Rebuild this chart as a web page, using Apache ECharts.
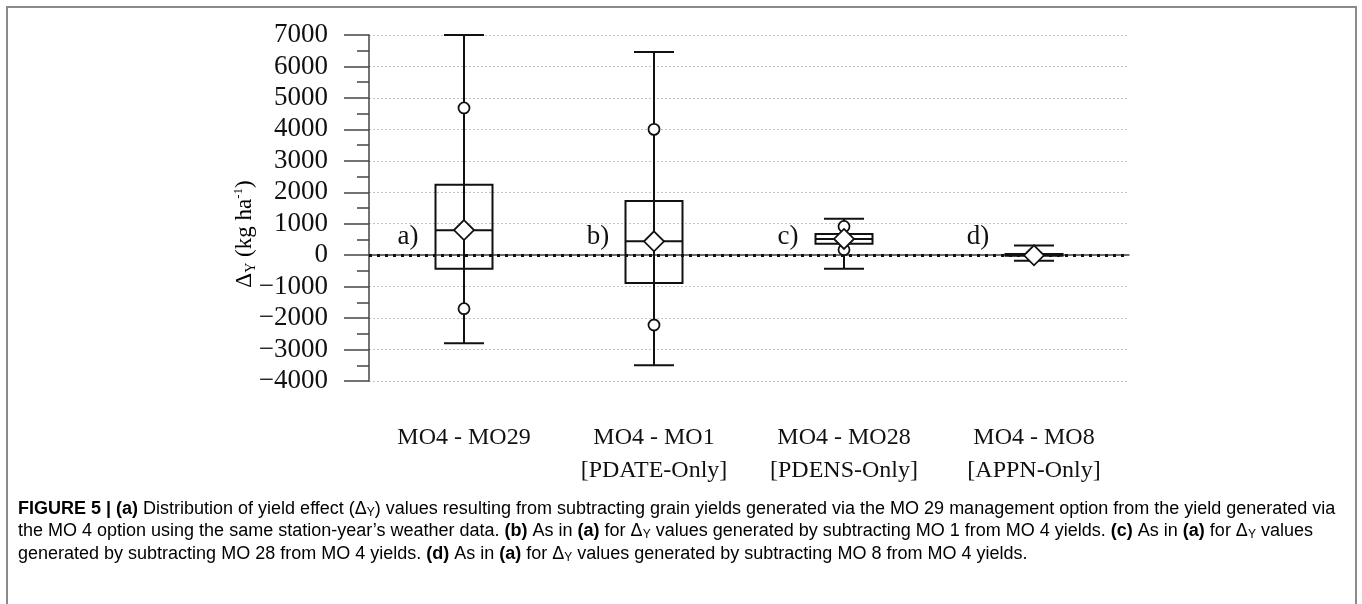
<!DOCTYPE html>
<html>
<head>
<meta charset="utf-8">
<script src="https://cdn.jsdelivr.net/npm/echarts@6/dist/echarts.min.js"></script>
<style>
  html, body { margin: 0; padding: 0; background: #fff; }
  #chart { width: 1362px; height: 604px; }
</style>
</head>
<body>
<div id="chart"></div>
<script>
// values (kg ha-1)
const categories = [
  "MO4 - MO29",
  "MO4 - MO1\n[PDATE-Only]",
  "MO4 - MO28\n[PDENS-Only]",
  "MO4 - MO8\n[APPN-Only]",
];
const panelLabels = ["a)", "b)", "c)", "d)"];
const whiskerLow = [-2800, -3500, -430, -175];
const q1 = [-430, -885, 365, -20];
const median = [790, 440, 515, 10];
const q3 = [2240, 1720, 675, 40];
const whiskerHigh = [7000, 6460, 1160, 310];
const means = [800, 440, 515, -5];
const lowMarker = [-1700, -2220, 175, null];
const highMarker = [4680, 4000, 915, null];
const yTicks = { min: -4000, max: 7000, step: 1000 };

const serif = "Liberation Serif";
const sans = "Liberation Sans";
const ink = "#111";

const chart = echarts.init(document.getElementById("chart"));

const boxData = categories.map((c, i) => [i, whiskerLow[i], q1[i], median[i], q3[i], whiskerHigh[i]]);

function renderBox(params, api) {
  const i = api.value(0);
  const at = (v) => api.coord([i, v]);
  const x = at(api.value(3))[0];
  const yLo = at(api.value(1))[1];
  const yQ1 = at(api.value(2))[1];
  const yMed = at(api.value(3))[1];
  const yQ3 = at(api.value(4))[1];
  const yHi = at(api.value(5))[1];
  const boxW = 57;
  const capW = 40;
  const line = (x1, y1, x2, y2) => ({
    type: "line",
    shape: { x1, y1, x2, y2 },
    style: { stroke: ink, lineWidth: 2 },
  });
  return {
    type: "group",
    children: [
      line(x, yHi, x, yLo),
      line(x - capW / 2, yHi, x + capW / 2, yHi),
      line(x - capW / 2, yLo, x + capW / 2, yLo),
      {
        type: "rect",
        shape: { x: x - boxW / 2, y: yQ3, width: boxW, height: yQ1 - yQ3 },
        style: { fill: "none", stroke: ink, lineWidth: 2 },
      },
      line(x - boxW / 2, yMed, x + boxW / 2, yMed),
    ],
  };
}

const markerData = [];
categories.forEach((c, i) => {
  if (lowMarker[i] != null) markerData.push([i, lowMarker[i]]);
  if (highMarker[i] != null) markerData.push([i, highMarker[i]]);
});

const capColor = "#222";
const captionRich = {
  n: { fontFamily: sans, fontSize: 18, color: capColor },
  b: { fontFamily: sans, fontSize: 18, fontWeight: "bold", color: capColor },
  s: { fontFamily: sans, fontSize: 12, color: capColor, padding: [7, 0, 0, 0] },
};
const captionLines = [
  "{b|FIGURE 5 | (a)}{n| Distribution of yield effect (Δ}{s|Y}{n|) values resulting from subtracting grain yields generated via the MO 29 management option from the yield generated via}",
  "{n|the MO 4 option using the same station-year’s weather data. }{b|(b)}{n| As in }{b|(a)}{n| for Δ}{s|Y}{n| values generated by subtracting MO 1 from MO 4 yields. }{b|(c)}{n| As in }{b|(a)}{n| for Δ}{s|Y}{n| values}",
  "{n|generated by subtracting MO 28 from MO 4 yields. }{b|(d)}{n| As in }{b|(a)}{n| for Δ}{s|Y}{n| values generated by subtracting MO 8 from MO 4 yields.}",
];

const nameRich = {
  t: { fontFamily: serif, fontSize: 23, color: "#333" },
  s: { fontFamily: serif, fontSize: 14, color: "#333", padding: [12, 0, 0, 0] },
  p: { fontFamily: serif, fontSize: 13, color: "#333", padding: [0, 0, 12, 0] },
};

const option = {
  animation: false,
  backgroundColor: "#fff",
  grid: { left: 369, right: 233, top: 35, bottom: 223 },
  graphic: [
    {
      type: "rect",
      z: -10,
      shape: { x: 7, y: 7, width: 1349, height: 700 },
      style: { fill: "none", stroke: "#8a8a8a", lineWidth: 2 },
    },
    {
      // y axis title, sits a little below the axis middle in the figure
      type: "text",
      x: 245,
      y: 234,
      rotation: Math.PI / 2,
      style: {
        text: "{t|Δ}{s|Y}{t| (kg ha}{p|-1}{t|)}",
        rich: nameRich,
        align: "center",
        verticalAlign: "middle",
      },
    },
  ].concat(
    captionLines.map((t, k) => ({
      type: "text",
      left: 18,
      top: 500 + k * 22.5,
      style: { text: t, rich: captionRich },
    }))
  ),
  xAxis: {
    type: "category",
    data: categories,
    boundaryGap: true,
    axisLine: { lineStyle: { color: "#444", width: 1.5 } },
    axisTick: { alignWithLabel: true, length: 25, lineStyle: { color: "#444", width: 1.5 } },
    axisLabel: {
      margin: 40,
      fontFamily: serif,
      fontSize: 24,
      lineHeight: 33,
      color: ink,
      interval: 0,
    },
    splitLine: { show: false },
  },
  yAxis: {
    type: "value",
    min: yTicks.min,
    max: yTicks.max,
    interval: yTicks.step,
    axisLine: { show: true, lineStyle: { color: "#444", width: 1.5 } },
    axisTick: { show: true, length: 25, lineStyle: { color: "#444", width: 1.5 } },
    minorTick: { show: true, splitNumber: 2, length: 12, lineStyle: { color: "#444", width: 1.5 } },
    axisLabel: {
      margin: 41,
      fontFamily: serif,
      fontSize: 27,
      color: ink,
      formatter: (v) => String(v).replace("-", "\u2212"),
    },
    splitLine: { show: true, lineStyle: { color: "#c4c4c4", width: 1, type: [2, 2] } },
  },
  series: [
    {
      type: "custom",
      renderItem: renderBox,
      data: boxData,
      encode: { x: 0, y: [1, 2, 3, 4, 5] },
      z: 3,
    },
    {
      type: "scatter",
      data: categories.map((c, i) => [i, 0]),
      symbolSize: 0,
      itemStyle: { opacity: 1 },
      z: 2,
      label: {
        show: true,
        position: "inside",
        formatter: (p) => panelLabels[p.dataIndex],
        offset: [-56, -18],
        fontFamily: serif,
        fontSize: 27,
        color: ink,
        opacity: 1,
      },
      markLine: {
        silent: true,
        symbol: "none",
        label: { show: false },
        lineStyle: { color: ink, type: [3, 5], width: 3, opacity: 1 },
        data: [{ yAxis: 0 }],
      },
    },
    {
      type: "scatter",
      data: markerData,
      symbol: "circle",
      symbolSize: 11,
      itemStyle: { color: "#fff", borderColor: ink, borderWidth: 1.8, opacity: 1 },
      z: 4,
    },
    {
      type: "scatter",
      data: means.map((m, i) => [i, m]),
      symbol: "diamond",
      symbolSize: 20,
      itemStyle: { color: "#fff", borderColor: ink, borderWidth: 1.8, opacity: 1 },
      z: 5,
    },
  ],
};

chart.setOption(option);
</script>
</body>
</html>
